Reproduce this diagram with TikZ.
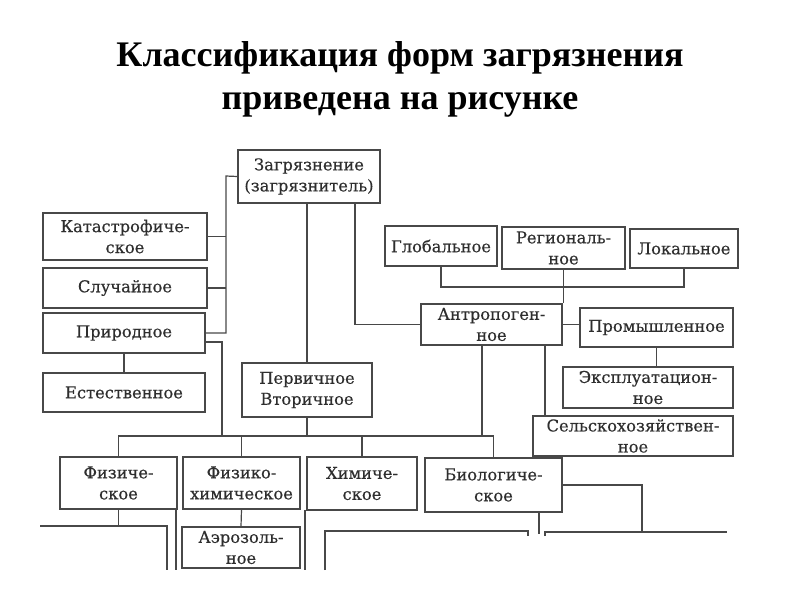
\documentclass[tikz,border=0pt]{standalone}
\usepackage{fontspec}
\setmainfont{DejaVu Serif}[FakeBold=0.4]
\newfontfamily\titlefont{Liberation Serif}
\usetikzlibrary{calc}

\definecolor{ink}{HTML}{2E2E2E}
\definecolor{wire}{HTML}{484848}

\begin{document}
\begin{tikzpicture}[x=1pt, y=-1pt,
	box/.style={draw=wire, line width=1.6pt, text=ink, align=center, inner sep=1pt, font=\fontsize{16.3}{21}\selectfont},
	con/.style={wire, line width=1.2pt}]
	\useasboundingbox (0,0) rectangle (800,600);

	%title
	\node (title) at (400,79) [align=center, font=\titlefont\bfseries\fontsize{36}{43}\selectfont] {Классификация форм загрязнения\\приведена на рисунке};

	%boxes, left column
	\node[box, minimum width=142, minimum height=53] (zagr) at (309,176.5) {Загрязнение\\(загрязнитель)};
	\node[box, minimum width=164, minimum height=47] (katastr) at (125,236.5) {Катастрофиче-\\ское};
	\node[box, minimum width=164, minimum height=40] (sluch) at (125,288) {Случайное};
	\node[box, minimum width=162, minimum height=40] (prirod) at (124,333) {Природное};
	\node[box, minimum width=162, minimum height=39] (estestv) at (124,392.5) {Естественное};
	\node[box, minimum width=130, minimum height=54] (perv) at (307,390) {Первичное\\Вторичное};

	%boxes, right part
	\node[box, minimum width=112, minimum height=40] (glob) at (441,246) {Глобальное};
	\node[box, minimum width=123, minimum height=42] (region) at (563.5,248) {Региональ-\\ное};
	\node[box, minimum width=108, minimum height=39] (lokal) at (684,248.5) {Локальное};
	\node[box, minimum width=141, minimum height=41] (antrop) at (491.5,324.5) {Антропоген-\\ное};
	\node[box, minimum width=153, minimum height=39] (prom) at (656.5,327.5) {Промышленное};
	\node[box, minimum width=170, minimum height=41] (ekspl) at (648,387.5) {Эксплуатацион-\\ное};
	\node[box, minimum width=200, minimum height=40] (selsk) at (633,436) {Сельскохозяйствен-\\ное};

	%boxes, bottom row
	\node[box, minimum width=117, minimum height=52] (fiz) at (118.5,483) {Физиче-\\ское};
	\node[box, minimum width=117, minimum height=52] (fizhim) at (241.5,483) {Физико-\\химическое};
	\node[box, minimum width=110, minimum height=53] (him) at (362,483.5) {Химиче-\\ское};
	\node[box, minimum width=137, minimum height=54] (biol) at (493.5,485) {Биологиче-\\ское};
	\node[box, minimum width=118, minimum height=41] (aeroz) at (241,547.5) {Аэрозоль-\\ное};

	%helper points
	\coordinate (lt) at (226,176);
	\coordinate (pb) at (222,342);
	\coordinate (bus) at (0,436);
	\coordinate (gb) at (0,287);
	\coordinate (zr) at (355,203);
	\coordinate (as) at (545,345);
	\coordinate (ab) at (482,345);

	%left trunk
	\draw[con] (zagr.west) -- (lt) |- (prirod.east);
	\draw[con] (katastr.east) -- (katastr.east -| lt);
	\draw[con] (sluch.east) -- (sluch.east -| lt);
	\draw[con] (prirod.east |- pb) -- (pb) -- (pb |- bus);
	\draw[con] (prirod.south) -- (estestv.north);

	%middle
	\draw[con] (perv.north) -- (perv.north |- zagr.south);
	\draw[con] (antrop.west) -| (zr);
	\draw[con] (glob.south) -- (glob.south |- gb) -- (lokal.south |- gb) -- (lokal.south);
	\draw[con] (region.south) -- (region.south |- antrop.north);
	\draw[con] (antrop.east) -- (antrop.east -| prom.west);
	\draw[con] (prom.south) -- (prom.south |- ekspl.north);
	\draw[con] (as) -- (as |- selsk.north);

	%lower bus
	\draw[con] (fiz.north) -- (fiz.north |- bus) -- (biol.north |- bus) -- (biol.north);
	\draw[con] (fizhim.north) -- (fizhim.north |- bus);
	\draw[con] (him.north) -- (him.north |- bus);
	\draw[con] (perv.south) -- (perv.south |- bus);
	\draw[con] (ab) -- (ab |- bus);
	\draw[con] (fizhim.south) -- (aeroz.north);

	%cut-off lines at the bottom
	\coordinate (fb) at (40,526);
	\coordinate (fc) at (167,526);
	\coordinate (fd) at (167,570);
	\coordinate (ga) at (176,510);
	\coordinate (gz) at (176,570);
	\coordinate (ha) at (305,510);
	\coordinate (hz) at (305,570);
	\coordinate (ka) at (325,570);
	\coordinate (kb) at (325,531);
	\coordinate (kc) at (528,531);
	\coordinate (kd) at (528,536);
	\coordinate (ba) at (539,512);
	\coordinate (bz) at (539,534);
	\coordinate (ma) at (545,536);
	\coordinate (mb) at (545,532);
	\coordinate (mc) at (727,532);
	\coordinate (rc) at (642,532);
	\draw[con] (fiz.south) -- (fiz.south |- fb);
	\draw[con] (fb) -- (fc) -- (fd);
	\draw[con] (ga) -- (gz);
	\draw[con] (ha) -- (hz);
	\draw[con] (ka) -- (kb) -- (kc) -- (kd);
	\draw[con] (ba) -- (bz);
	\draw[con] (ma) -- (mb) -- (mc);
	\draw[con] (biol.east) -| (rc);
\end{tikzpicture}
\end{document}
